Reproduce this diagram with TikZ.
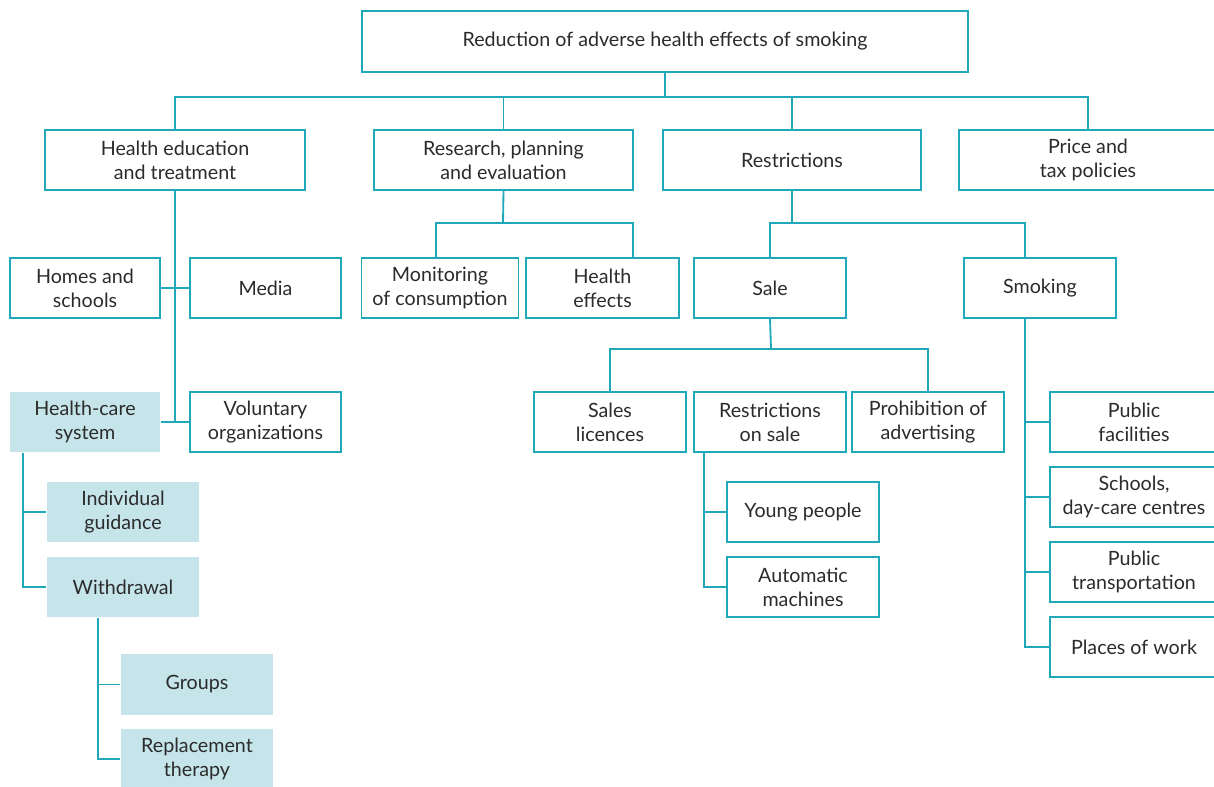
\documentclass[tikz,border=0pt]{standalone}
\usepackage{fontspec}
\setmainfont{Lato}
\definecolor{chartline}{HTML}{1FA8B8}
\definecolor{chartfill}{HTML}{C6E5EA}
\definecolor{charttext}{HTML}{2B2B2B}
\tikzset{
  every node/.style={
    font=\fontsize{14}{17}\selectfont,
    text=charttext
  },
  box/.style={
    shape=rectangle,
    draw=chartline,
    line width=1.3pt,
    fill=white,
    minimum height=1.5cm,
    inner sep=0pt,
    align=center
  },
  carebox/.style={
    box,
    draw=none,
    fill=chartfill
  },
  link/.style={
    draw=chartline,
    line width=1.3pt
  }
}

\begin{document}
\begin{tikzpicture}[x=0.025cm,y=-0.025cm]
  \useasboundingbox (0,0) rectangle (1214,787);

  % top level
  \node [box, minimum width=15.15cm, minimum height=1.525cm] (goal) at (665,41.5)
    {Reduction of adverse health effects of smoking};
  \node [box, minimum width=6.5cm] (hed) at (175,160) {Health education\\and treatment};
  \node [box, minimum width=6.475cm] (rpe) at (503.5,160) {Research, planning\\and evaluation};
  \node [box, minimum width=6.45cm] (restr) at (792,160) {Restrictions};
  \node [box, minimum width=6.45cm] (price) at (1088,160) {Price and\\tax policies};

  % health education and treatment
  \node [box, minimum width=3.75cm] (homes) at (85,288) {Homes and\\schools};
  \node [box, minimum width=3.775cm] (media) at (265.5,288) {Media};
  \node [carebox, minimum width=3.75cm] (care) at (85,422) {Health-care\\system};
  \node [box, minimum width=3.775cm] (volun) at (265.5,422) {Voluntary\\organizations};
  \node [carebox, minimum width=3.8cm] (guide) at (123,512) {Individual\\guidance};
  \node [carebox, minimum width=3.8cm] (withd) at (123,587) {Withdrawal};
  \node [carebox, minimum width=3.8cm] (groups) at (197,684.5) {Groups};
  \node [carebox, minimum width=3.8cm] (repl) at (197,759) {Replacement\\therapy};

  % research, planning and evaluation
  \node [box, minimum width=3.925cm] (monit) at (440,288) {Monitoring\\of consumption};
  \node [box, minimum width=3.825cm] (heff) at (602.5,288) {Health\\effects};

  % restrictions
  \node [box, minimum width=3.8cm] (sale) at (770,288) {Sale};
  \node [box, minimum width=3.8cm] (smoke) at (1040,288) {Smoking};
  \node [box, minimum width=3.8cm] (licen) at (610,422) {Sales\\licences};
  \node [box, minimum width=3.8cm] (onsale) at (770,422) {Restrictions\\on sale};
  \node [box, minimum width=3.8cm] (prohib) at (928,422) {Prohibition of\\advertising};
  \node [box, minimum width=3.8cm] (young) at (803,512) {Young people};
  \node [box, minimum width=3.8cm] (autom) at (803,587) {Automatic\\machines};
  \node [box, minimum width=4.2cm] (pubfac) at (1134,422) {Public\\facilities};
  \node [box, minimum width=4.2cm] (school) at (1134,497) {Schools,\\day-care centres};
  \node [box, minimum width=4.2cm] (transp) at (1134,572) {Public\\transportation};
  \node [box, minimum width=4.2cm] (work) at (1134,647) {Places of work};

  % connectors
  \coordinate (bartop) at (665,97);
  \coordinate (barrpe) at (503,223);
  \coordinate (barres) at (792,223);
  \coordinate (barsale) at (771,349);

  \draw [link] (goal.south) -- (bartop);
  \draw [link] (hed.north) |- (bartop) -| (price.north);
  \draw [link] (rpe.north) -- (rpe.north |- bartop);
  \draw [link] (restr.north) -- (restr.north |- bartop);

  \draw [link] (hed.south) -- (hed.south |- care.east);
  \draw [link] (homes.east) -- (media.west);
  \draw [link] (care.east) -- (volun.west);
  \draw [link] ([xshift=-1.55cm]care.south) |- (guide.west);
  \draw [link] ([xshift=-1.55cm]care.south) |- (withd.west);
  \draw [link] ([xshift=-0.625cm]withd.south) |- (groups.west);
  \draw [link] ([xshift=-0.625cm]withd.south) |- (repl.west);

  \draw [link] (rpe.south) -- (barrpe);
  \draw [link] ([xshift=-0.1cm]monit.north) |- (barrpe) -| ([xshift=0.76cm]heff.north);

  \draw [link] (restr.south) -- (barres);
  \draw [link] (sale.north) |- (barres) -| ([xshift=-0.375cm]smoke.north);
  \draw [link] (sale.south) -- (barsale);
  \draw [link] (licen.north) |- (barsale) -| (prohib.north);
  \draw [link] ([xshift=-1.65cm]onsale.south) |- (young.west);
  \draw [link] ([xshift=-1.65cm]onsale.south) |- (autom.west);
  \draw [link] ([xshift=-0.375cm]smoke.south) |- (pubfac.west);
  \draw [link] ([xshift=-0.375cm]smoke.south) |- (school.west);
  \draw [link] ([xshift=-0.375cm]smoke.south) |- (transp.west);
  \draw [link] ([xshift=-0.375cm]smoke.south) |- (work.west);
\end{tikzpicture}
\end{document}
